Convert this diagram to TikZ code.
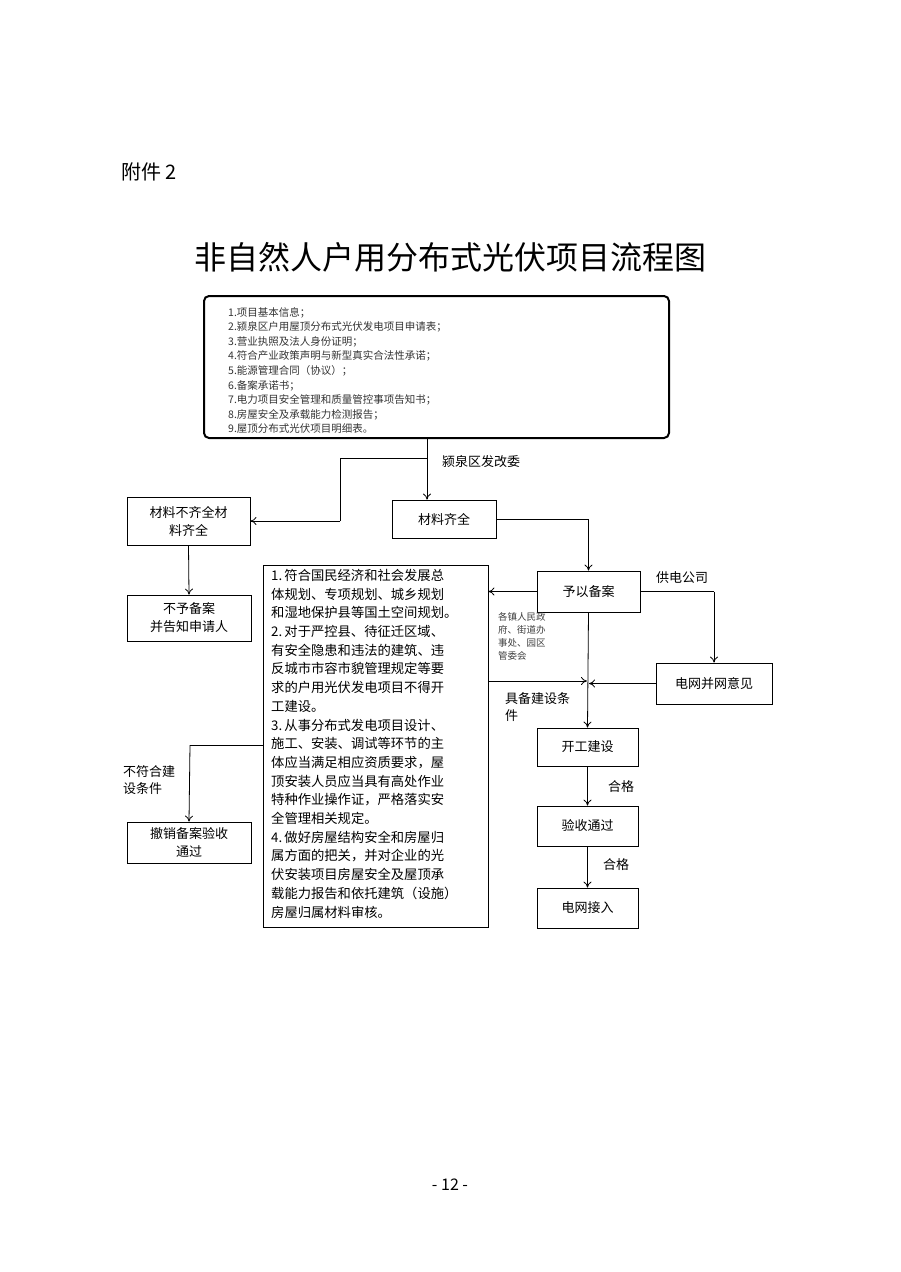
\documentclass[tikz,border=0pt]{standalone}
\usepackage{fontspec}
\newfontfamily\cjk{Noto Sans CJK SC}
\usetikzlibrary{arrows.meta}
\begin{document}
\begin{tikzpicture}[x=1pt,y=-1pt,
  bx/.style={draw,line width=0.8pt,align=center,font=\cjk\fontsize{13}{18}\selectfont,inner sep=0pt},
  lb/.style={font=\cjk\fontsize{13}{17}\selectfont,align=left,inner sep=0pt},
  ar/.style={line width=0.8pt,-{To[length=6pt,width=8pt]}},
  ln/.style={line width=0.8pt}]
\useasboundingbox (0,0) rectangle (900,1272);
\node[anchor=west,font=\fontsize{20}{24}\selectfont\cjk] (att) at (118,172) {附件 2};
\node[font=\fontsize{32}{38}\selectfont\cjk] (title) at (450,257) {非自然人户用分布式光伏项目流程图};
\node[draw,line width=2pt,rounded corners=5pt,minimum width=465pt,minimum height=142pt] (top) at (436.5,367) {};
\node[anchor=north west,align=left,inner sep=0pt,font=\cjk\fontsize{10.5}{14.6}\selectfont,text=black!80] (toptext) at (228,307) {1.项目基本信息；\\2.颍泉区户用屋顶分布式光伏发电项目申请表；\\3.营业执照及法人身份证明；\\4.符合产业政策声明与新型真实合法性承诺；\\5.能源管理合同（协议）；\\6.备案承诺书；\\7.电力项目安全管理和质量管控事项告知书；\\8.房屋安全及承载能力检测报告；\\9.屋顶分布式光伏项目明细表。};
\node[bx,minimum width=123pt,minimum height=48pt] (nq) at (188.5,521) {材料不齐全材\\料齐全};
\node[bx,minimum width=104pt,minimum height=38pt] (qq) at (444,519) {材料齐全};
\node[bx,minimum width=124pt,minimum height=46pt] (by) at (189,618) {不予备案\\并告知申请人};
\node[bx,minimum width=103pt,minimum height=41pt] (ba) at (588.5,591.5) {予以备案};
\node[bx,minimum width=116pt,minimum height=41pt] (dw) at (714,683.5) {电网并网意见};
\node[bx,minimum width=101pt,minimum height=38pt] (kg) at (587.5,747) {开工建设};
\node[bx,minimum width=101pt,minimum height=40pt] (ys) at (587.5,826) {验收通过};
\node[bx,minimum width=101pt,minimum height=40pt] (jr) at (587.5,908) {电网接入};
\node[bx,minimum width=124pt,minimum height=41pt] (cx) at (189,842.5) {撤销备案验收\\通过};
\node[draw,line width=0.8pt,minimum width=225pt,minimum height=362pt,inner sep=0pt] (big) at (375.5,746) {};
\node[anchor=north west,align=left,inner sep=0pt,font=\cjk\fontsize{13.3}{18.7}\selectfont] (bigtext) at (271,569) {1.\,符合国民经济和社会发展总\\体规划、专项规划、城乡规划\\和湿地保护县等国土空间规划。\\2.\,对于严控县、待征迁区域、\\有安全隐患和违法的建筑、违\\反城市市容市貌管理规定等要\\求的户用光伏发电项目不得开\\工建设。\\3.\,从事分布式发电项目设计、\\施工、安装、调试等环节的主\\体应当满足相应资质要求，屋\\顶安装人员应当具有高处作业\\特种作业操作证，严格落实安\\全管理相关规定。\\4.\,做好房屋结构安全和房屋归\\属方面的把关，并对企业的光\\伏安装项目房屋安全及屋顶承\\载能力报告和依托建筑（设施）\\房屋归属材料审核。};
\coordinate (j1) at (427,458);
\coordinate (j2) at (588,681);
\draw[ar] (427,438) -- (qq.north-|427,0);
\draw[ln] (j1) -- (340,458) -- (340,521);
\draw[ar] (340,521) -- (nq.east);
\node[lb,anchor=west] (l1) at (442,462) {颍泉区发改委};
\draw[ln] (qq.east) -- (ba.north|-qq.east);
\draw[ar] (ba.north|-qq.east) -- (ba.north);
\draw[ar] (nq.south) -- (by.north);
\draw[ar] (ba.west) -- (big.east|-ba.west);
\node[lb,anchor=west] (l2) at (656,578) {供电公司};
\draw[ln] (ba.east) -- (dw.north|-ba.east);
\draw[ar] (dw.north|-ba.east) -- (dw.north);
\draw[ar] (ba.south) -- (kg.north);
\draw[ar] (big.east|-j2) -- ([xshift=-1pt]j2);
\draw[ar] (dw.west) -- ([xshift=1pt]j2|-dw.west);
\node[anchor=north west,align=left,inner sep=0pt,font=\cjk\fontsize{9.5}{13}\selectfont,text=black!75] (l3) at (498,612) {各镇人民政\\府、街道办\\事处、园区\\管委会};
\node[lb,anchor=north west] (l4) at (505,692) {具备建设条\\件};
\draw[ar] (kg.south) -- (ys.north);
\node[lb] (l5) at (621,787) {合格};
\draw[ar] (ys.south) -- (jr.north);
\node[lb] (l6) at (616,865) {合格};
\draw[ln] (big.west|-0,745) -- (190,745);
\draw[ar] (190,745) -- (cx.north);
\node[lb,anchor=north west] (l7) at (123,765) {不符合建\\设条件};
\node[font=\cjk\fontsize{16}{20}\selectfont] (pg) at (450,1185) {-\ 12\ -};
\end{tikzpicture}
\end{document}
